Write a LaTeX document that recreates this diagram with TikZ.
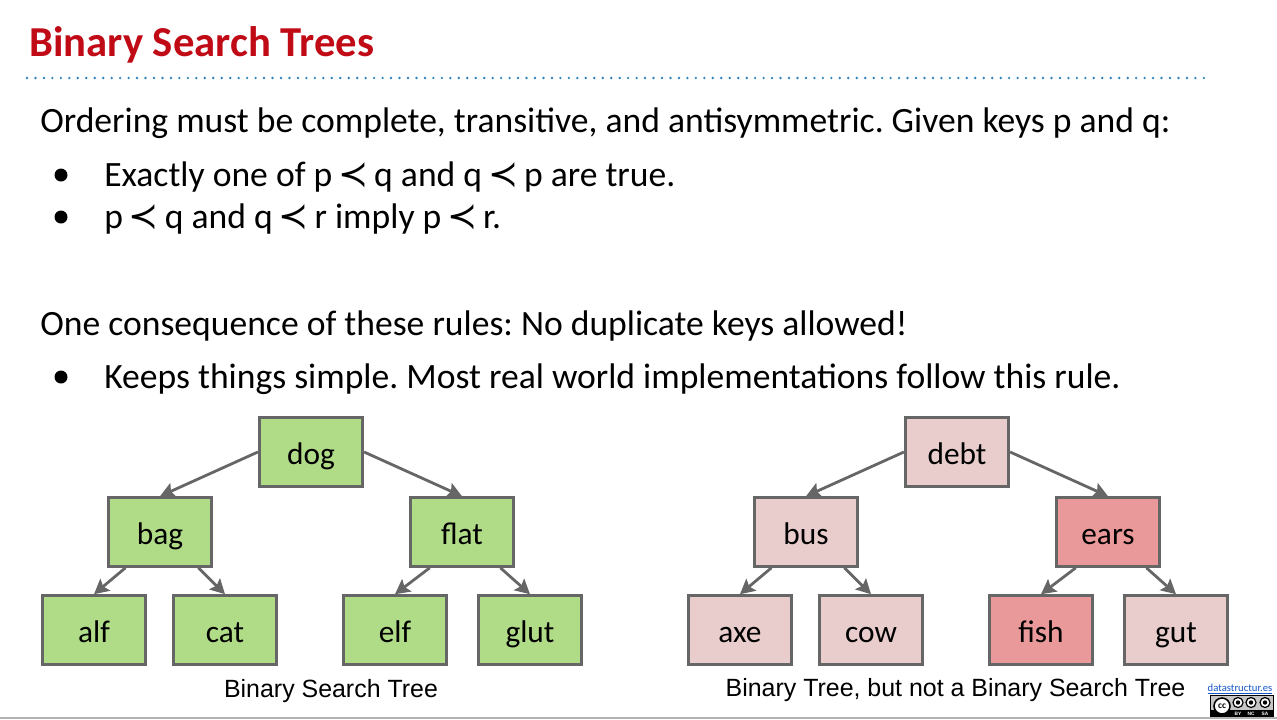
\documentclass[tikz,border=0pt]{standalone}
\usepackage{fontspec}
\setmainfont{Carlito}
\newfontfamily\captionfont{Liberation Sans}
\newfontfamily\relfont{DejaVu Sans}
\usetikzlibrary{arrows.meta}
\definecolor{slidered}{HTML}{C00A16}
\definecolor{dotblue}{HTML}{2B83BE}
\definecolor{edgegray}{HTML}{666666}
\definecolor{goodgreen}{HTML}{B0DC87}
\definecolor{palepink}{HTML}{E9CCCC}
\definecolor{badpink}{HTML}{E99999}
\definecolor{linkblue}{HTML}{1155CC}
\frenchspacing
\newcommand{\precsign}{\makebox[19.3pt]{\relfont\fontsize{27}{30}\selectfont ≺}}
\tikzset{
    bullettext/.style={anchor=base west, inner sep=0pt, font=\fontsize{26.7}{30}\selectfont},
    keybox/.style={draw=edgegray, line width=2.2pt, minimum width=77.5pt, minimum height=51.5pt, inner sep=0pt,
        text height=20.5pt, text depth=1.5pt, font=\fontsize{23.5}{27}\selectfont},
    goodkey/.style={keybox, fill=goodgreen},
    okkey/.style={keybox, fill=palepink},
    badkey/.style={keybox, fill=badpink},
    treeedge/.style={draw=edgegray, line width=2.1pt, -{Stealth[length=11pt, width=11.5pt, inset=2pt]}},
    caption/.style={anchor=base, inner sep=0pt, font=\captionfont\fontsize{18.7}{21}\selectfont},
    badge/.style={circle, fill=white, draw=black, inner sep=0pt, line width=0.9pt},
}
\begin{document}
\begin{tikzpicture}[x=0.75pt, y=-0.75pt]
    \useasboundingbox (0,0) rectangle (1277,719);
    %\draw[gray, dashed] (0,0) grid (1277,719);

    \node[anchor=base west, inner sep=0pt, text=slidered, font=\bfseries\fontsize{32}{35}\selectfont] (title) at (29,56) {Binary Search Trees};
    \draw[dotblue, line width=2pt, line cap=round, dash pattern=on 0pt off 6.35pt] (27,78) -- (1205,78);

    \node[bullettext] (ordering) at (40,132.5) {Ordering must be complete, transitive, and antisymmetric. Given keys p and q:};
    \fill[black] (61,175) circle (6.5);
    \node[bullettext] (exactly) at (104,186.5) {Exactly one of p \precsign{} q and q \precsign{} p are true.};
    \fill[black] (61,217) circle (6.5);
    \node[bullettext] (imply) at (104,228.5) {p \precsign{} q and q \precsign{} r imply p \precsign{} r.};
    \node[bullettext] (consequence) at (40,335.5) {One consequence of these rules: No duplicate keys allowed!};
    \fill[black] (61,377) circle (6.5);
    \node[bullettext] (simple) at (104,388.5) {Keeps things simple. Most real world implementations follow this rule.};

    \node[goodkey] (dog) at (311,452) {dog};
    \node[goodkey] (bag) at (160,532) {bag};
    \node[goodkey] (flat) at (462,532) {flat};
    \node[goodkey] (alf) at (94,630) {alf};
    \node[goodkey] (cat) at (225,630) {cat};
    \node[goodkey] (elf) at (395,630) {elf};
    \node[goodkey] (glut) at (530,630) {glut};
    \draw[treeedge] (dog.west) -- (bag.north);
    \draw[treeedge] (dog.east) -- (flat.north);
    \draw[treeedge] (bag.226) -- (alf.north);
    \draw[treeedge] (bag.-43) -- (cat.north);
    \draw[treeedge] (flat.228) -- (elf.north);
    \draw[treeedge] (flat.-43) -- (glut.north);
    \node[caption] (goodcaption) at (331,697) {Binary Search Tree};

    \node[okkey] (debt) at (957,452) {debt};
    \node[okkey] (bus) at (806,532) {bus};
    \node[badkey] (ears) at (1108,532) {ears};
    \node[okkey] (axe) at (740,630) {axe};
    \node[okkey] (cow) at (871,630) {cow};
    \node[badkey] (fish) at (1041,630) {fish};
    \node[okkey] (gut) at (1176,630) {gut};
    \draw[treeedge] (debt.west) -- (bus.north);
    \draw[treeedge] (debt.east) -- (ears.north);
    \draw[treeedge] (bus.226) -- (axe.north);
    \draw[treeedge] (bus.-43) -- (cow.north);
    \draw[treeedge] (ears.228) -- (fish.north);
    \draw[treeedge] (ears.-43) -- (gut.north);
    \node[caption] (badcaption) at (955.5,696) {Binary Tree, but not a Binary Search Tree};

    \node[anchor=base, inner sep=0pt, text=linkblue, font=\fontsize{8}{9}\selectfont] (link) at (1240,691) {\underline{datastructur.es}};

    \fill[black] (1210,695) rectangle (1274,717);
    \fill[gray!45] (1211,696) rectangle (1273,710);
    \node[badge, minimum size=12pt, line width=1.2pt, font=\bfseries\fontsize{7}{7}\selectfont] (ccmark) at (1222,706) {cc};
    \node[badge, minimum size=7.5pt] (bymark) at (1238,702.5) {};
    \node[badge, minimum size=7.5pt] (ncmark) at (1251,702.5) {};
    \node[badge, minimum size=7.5pt] (samark) at (1265,702.5) {};
    \fill[black] (bymark.center) circle (2.2);
    \fill[black] (ncmark.center) circle (2.2);
    \fill[black] (samark.center) circle (2.2);
    \node[text=white, inner sep=0pt, font=\captionfont\bfseries\fontsize{3.6}{4}\selectfont] (bylabel) at (1238,714) {BY};
    \node[text=white, inner sep=0pt, font=\captionfont\bfseries\fontsize{3.6}{4}\selectfont] (nclabel) at (1251,714) {NC};
    \node[text=white, inner sep=0pt, font=\captionfont\bfseries\fontsize{3.6}{4}\selectfont] (salabel) at (1265,714) {SA};

    \draw[gray!60, line width=0.9pt] (0,718) -- (1277,718);
\end{tikzpicture}
\end{document}
